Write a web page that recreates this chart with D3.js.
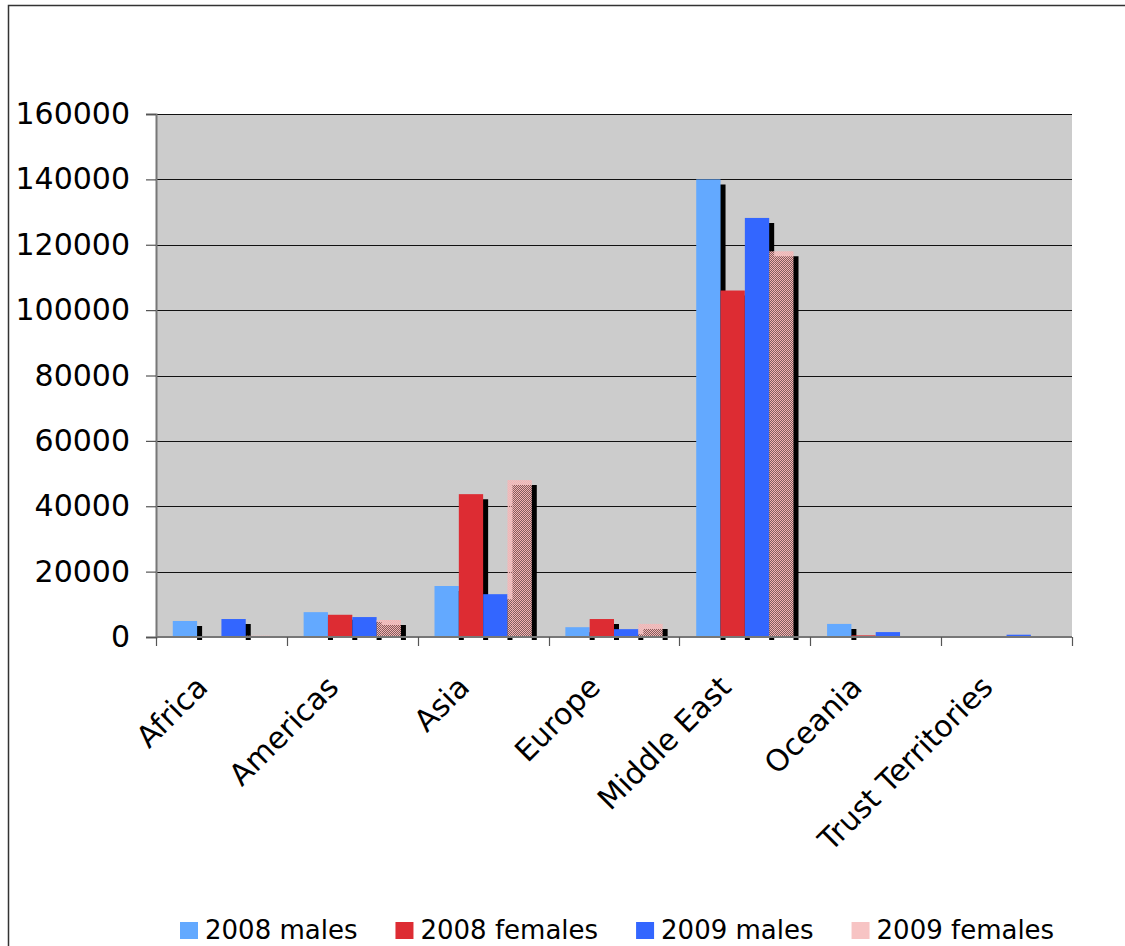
<!DOCTYPE html>
<html>
<head>
<meta charset="utf-8">
<script src="https://cdn.jsdelivr.net/npm/d3@7/dist/d3.min.js"></script>
<style>
  html, body { margin: 0; padding: 0; background: #fff; }
  svg { display: block; }
  text { font-family: "DejaVu Sans", Verdana, sans-serif; fill: #000; }
</style>
</head>
<body>
<svg id="chart" width="1125" height="946"></svg>
<script>
// Regions and yearly counts by sex
const categories = ["Africa", "Americas", "Asia", "Europe", "Middle East", "Oceania", "Trust Territories"];
const seriesNames = ["2008 males", "2008 females", "2009 males", "2009 females"];
const males2008   = [4900, 7600, 15600, 3000, 140000, 4000, 300];
const females2008 = [0, 6800, 43700, 5500, 106000, 500, 300];
const males2009   = [5500, 6100, 13100, 2400, 128200, 1500, 700];
const females2009 = [400, 5200, 48000, 4000, 118000, 300, 300];
const yTicks = [0, 20000, 40000, 60000, 80000, 100000, 120000, 140000, 160000];

const seriesValues = [males2008, females2008, males2009, females2009];
const fills = ["#63a9ff", "#dd2c33", "#3366ff", "url(#pinkDots)"];

const svg = d3.select("#chart");

// patterned, partly see-through fill for the last series
const defs = svg.append("defs");
const pat = defs.append("pattern")
  .attr("id", "pinkDots").attr("patternUnits", "userSpaceOnUse")
  .attr("width", 2).attr("height", 2);
pat.append("rect").attr("width", 2).attr("height", 2).attr("fill", "rgba(255,190,190,0.5)");
pat.append("rect").attr("width", 1).attr("height", 1).attr("fill", "#f6b2b2");
pat.append("rect").attr("x", 1).attr("y", 1).attr("width", 1).attr("height", 1).attr("fill", "#f6b2b2");

// outer frame
svg.append("rect")
  .attr("x", 8.5).attr("y", 5.5).attr("width", 1130).attr("height", 950)
  .attr("fill", "none").attr("stroke", "#333").attr("stroke-width", 1.5);

const plot = { left: 156, right: 1072, top: 114, bottom: 637 };

const x = d3.scaleBand().domain(categories).range([plot.left, plot.right]).padding(0);
const xs = d3.scaleBand().domain(d3.range(seriesNames.length))
  .range([0, x.bandwidth()]).paddingInner(0).paddingOuter(0.69);
const y = d3.scaleLinear().domain([0, 160000]).range([plot.bottom, plot.top]);

// plot background
svg.append("rect")
  .attr("x", plot.left).attr("y", plot.top)
  .attr("width", plot.right - plot.left).attr("height", plot.bottom - plot.top)
  .attr("fill", "#cccccc");

// gridlines
svg.append("g").selectAll("line").data(yTicks.filter(d => d > 0)).join("line")
  .attr("x1", plot.left).attr("x2", plot.right)
  .attr("y1", d => Math.round(y(d)) + 0.5).attr("y2", d => Math.round(y(d)) + 0.5)
  .attr("stroke", "#111").attr("stroke-width", 1.2);

const barData = [];
seriesValues.forEach((vals, si) => {
  vals.forEach((v, ci) => barData.push({ cat: categories[ci], si, v }));
});

// drop shadows, offset down-right, all beneath the bars; only the
// right-hand strip pokes out below the baseline
const sdx = 5, sdy = 5, below = 3;
svg.append("g").selectAll("path")
  .data(barData.filter(d => d.v > 0 && y(d.v) + sdy < plot.bottom - 1))
  .join("path")
  .attr("d", d => {
    const x0 = x(d.cat) + xs(d.si), w = xs.bandwidth();
    const top = y(d.v) + sdy;
    return `M${x0 + sdx},${top}H${x0 + w + sdx}V${plot.bottom + below}H${x0 + w}V${plot.bottom}H${x0 + sdx}Z`;
  })
  .attr("fill", "#000");

// bars
svg.append("g").selectAll("rect").data(barData.filter(d => d.v > 0)).join("rect")
  .attr("x", d => x(d.cat) + xs(d.si))
  .attr("y", d => y(d.v))
  .attr("width", xs.bandwidth())
  .attr("height", d => y(0) - y(d.v))
  .attr("fill", d => fills[d.si]);

// y axis
const yAxis = d3.axisLeft(y).tickValues(yTicks).tickSize(10).tickPadding(16).tickFormat(d3.format("d"));
const gy = svg.append("g").attr("transform", `translate(${plot.left},0)`).call(yAxis);
gy.select(".domain").attr("stroke", "#777").attr("stroke-width", 2);
gy.selectAll(".tick line").attr("stroke", "#555").attr("stroke-width", 1.2);
gy.selectAll(".tick text").attr("font-size", 30).attr("font-family", "DejaVu Sans, Verdana, sans-serif").attr("fill", "#000");

// x axis: ticks on category boundaries
const gx = svg.append("g");
gx.append("line")
  .attr("x1", plot.left).attr("x2", plot.right)
  .attr("y1", plot.bottom).attr("y2", plot.bottom)
  .attr("stroke", "#777").attr("stroke-width", 2);
const bounds = categories.map(c => x(c)).concat([x(categories[categories.length - 1]) + x.bandwidth()]);
gx.selectAll("line.tk").data(bounds).join("line").attr("class", "tk")
  .attr("x1", d => Math.round(d) + 0.5).attr("x2", d => Math.round(d) + 0.5)
  .attr("y1", plot.bottom).attr("y2", plot.bottom + 9)
  .attr("stroke", "#555").attr("stroke-width", 1.2);
gx.selectAll("text").data(categories).join("text")
  .attr("transform", d => `translate(${x(d) + x.bandwidth() / 2 - 12},${plot.bottom + 52}) rotate(-45)`)
  .attr("text-anchor", "end")
  .attr("font-size", 30)
  .text(d => d);

// legend
const legend = svg.append("g");
let lx = 180;
seriesNames.forEach((name, i) => {
  const g = legend.append("g");
  g.append("rect").attr("x", lx).attr("y", 922).attr("width", 18).attr("height", 17)
    .attr("fill", i === 3 ? "#f7c4c4" : fills[i]);
  const t = g.append("text").attr("x", lx + 25).attr("y", 939).attr("font-size", 26).text(name);
  lx += 25 + t.node().getComputedTextLength() + 38;
});
</script>
</body>
</html>
